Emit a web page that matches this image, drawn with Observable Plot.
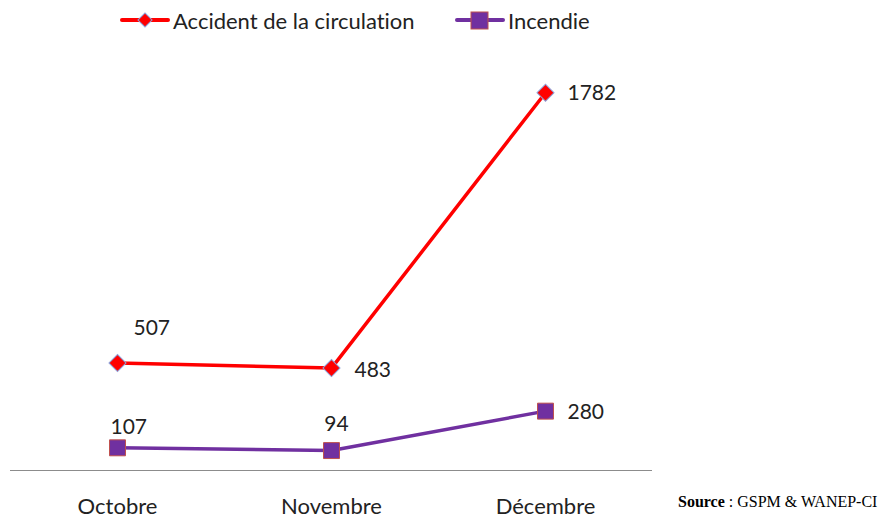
<!DOCTYPE html>
<html>
<head>
<meta charset="utf-8">
<script src="https://cdn.jsdelivr.net/npm/d3@7"></script>
<script src="https://cdn.jsdelivr.net/npm/@observablehq/plot@0.6"></script>
<style>
  body { margin: 0; background: #fff; font-family: Lato, "Open Sans", sans-serif; font-variant-ligatures: none; }
  #wrap { position: relative; width: 881px; height: 519px; }
  #legend { position: relative; height: 40px; }
  .item { position: absolute; top: 7px; display: flex; align-items: center; font-size: 22px; color: #222; font-variant-ligatures: none; }
  .item svg { display: block; margin-right: 3px; }
  #source { position: absolute; left: 678px; top: 493px; font-family: "Liberation Serif", serif; font-size: 16px; color: #000; }
</style>
</head>
<body>
<div id="wrap">
  <div id="legend"></div>
  <div id="chart"></div>
  <div id="source"><b>Source</b> : GSPM &amp; WANEP-CI</div>
</div>
<script>
const months = ["Octobre", "Novembre", "Décembre"];
const seriesNames = ["Accident de la circulation", "Incendie"];
const accidents = [507, 483, 1782];
const incendies = [107, 94, 280];

const colors = ["#ff0000", "#7030a0"];
const accData = months.map((m, i) => ({month: m, value: accidents[i]}));
const incData = months.map((m, i) => ({month: m, value: incendies[i]}));

// legend
const legend = document.getElementById("legend");
const legendLeft = [120, 455];
seriesNames.forEach((name, k) => {
  const div = document.createElement("div");
  div.className = "item";
  div.style.left = legendLeft[k] + "px";
  const marker = k === 0
    ? `<rect x="20" y="5" width="10" height="10" transform="rotate(45 25 10)" fill="${colors[0]}" stroke="#8da0d8" stroke-width="1"/>`
    : `<rect x="16" y="2" width="17" height="17" fill="${colors[1]}" stroke="#c0504d" stroke-width="1"/>`;
  div.innerHTML = `<svg width="50" height="21"><line x1="2" x2="48" y1="10" y2="10" stroke="${colors[k]}" stroke-width="4" stroke-linecap="round"/>${marker}</svg><span>${name}</span>`;
  legend.appendChild(div);
});

const accOffsets = [[16, -35, "start"], [23, 2, "start"], [22, 1, "start"]];
const incOffsets = [[-7, -21, "start"], [5, -26, "middle"], [22, 1, "start"]];

const labelMarks = [];
accData.forEach((d, i) => {
  const [dx, dy, anchor] = accOffsets[i];
  labelMarks.push(Plot.text([d], {x: "month", y: "value", text: (d) => String(d.value), dx, dy, textAnchor: anchor, fill: "#222", fontSize: 21}));
});
incData.forEach((d, i) => {
  const [dx, dy, anchor] = incOffsets[i];
  labelMarks.push(Plot.text([d], {x: "month", y: "value", text: (d) => String(d.value), dx, dy, textAnchor: anchor, fill: "#222", fontSize: 21}));
});

const chart = Plot.plot({
  width: 881,
  height: 479,
  marginLeft: 10,
  marginRight: 229,
  marginTop: 6,
  marginBottom: 49,
  style: {fontFamily: "Lato, 'Open Sans', sans-serif", fontSize: "22px", color: "#222", background: "#fff"},
  x: {type: "point", domain: months, padding: 0.5, label: null, tickSize: 0, tickPadding: 28},
  y: {domain: [0, 2000], axis: null},
  marks: [
    Plot.ruleY([0], {stroke: "#8c8c8c", strokeWidth: 1}),
    Plot.line(accData, {x: "month", y: "value", stroke: colors[0], strokeWidth: 3.5}),
    Plot.line(incData, {x: "month", y: "value", stroke: colors[1], strokeWidth: 3.5}),
    Plot.dot(accData, {x: "month", y: "value", symbol: "square", r: 6.8, rotate: 45, fill: colors[0], stroke: "#8da0d8", strokeWidth: 1}),
    Plot.dot(incData, {x: "month", y: "value", symbol: "square", r: 9, fill: colors[1], stroke: "#c0504d", strokeWidth: 1}),
    ...labelMarks
  ]
});
document.getElementById("chart").appendChild(chart);
</script>
</body>
</html>
